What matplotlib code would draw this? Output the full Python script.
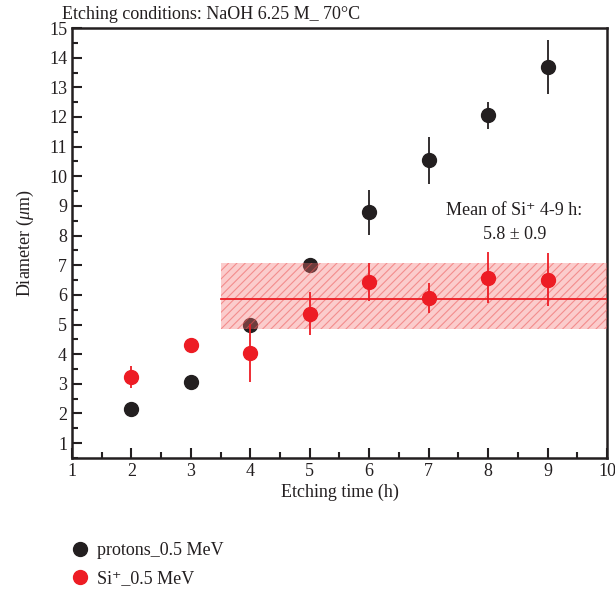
import matplotlib
matplotlib.use("Agg")
import matplotlib.pyplot as plt
from matplotlib.ticker import MultipleLocator
from matplotlib.lines import Line2D

plt.rcParams['font.family'] = ['Liberation Serif', 'DejaVu Serif']
plt.rcParams['mathtext.fontset'] = 'custom'
plt.rcParams['mathtext.it'] = 'Liberation Serif:italic'
plt.rcParams['hatch.linewidth'] = 0.8

# data
time_h = [2, 3, 4, 5, 6, 7, 8, 9]
protons_d = [2.15, 3.07, 4.97, 7.0, 8.78, 10.54, 12.06, 13.68]
protons_err = [0.08, 0.22, 0.1, 0.18, 0.75, 0.8, 0.45, 0.92]
si_d = [3.24, 4.32, 4.03, 5.37, 6.43, 5.89, 6.58, 6.51]
si_err = [0.37, 0.08, 0.98, 0.72, 0.64, 0.5, 0.87, 0.9]
mean_si = 5.87
band_low, band_high = 4.84, 7.07
band_x = [3.5, 10]
labels = ['protons_0.5 MeV', 'Si⁺_0.5 MeV']

black = '#231f20'
red = '#ed1c24'
fs = 13

fig = plt.figure(figsize=(6.15, 5.93), dpi=100)
ax = fig.add_axes([0.117, 0.2277, 0.87, 0.725])

ax.errorbar(time_h, protons_d, yerr=protons_err, fmt='o', color=black, ms=10,
            elinewidth=1.3, capsize=0, zorder=2)
ax.fill_between(band_x, band_low, band_high, facecolor=(0.96, 0.45, 0.45, 0.36),
                edgecolor=(0.93, 0.35, 0.35, 0.55), hatch='////', linewidth=0, zorder=3)
ax.plot(band_x, [mean_si, mean_si], color=red, lw=1.3, zorder=5)
ax.errorbar(time_h, si_d, yerr=si_err, fmt='o', color=red, ms=10,
            elinewidth=1.3, capsize=0, zorder=6)

ax.set_xlim(1, 10)
ax.set_ylim(0.5, 15)
ax.xaxis.set_major_locator(MultipleLocator(1))
ax.xaxis.set_minor_locator(MultipleLocator(0.5))
ax.yaxis.set_major_locator(MultipleLocator(1))
ax.yaxis.set_minor_locator(MultipleLocator(0.5))
ax.tick_params(which='both', direction='in', top=False, right=False, labelsize=fs, width=1.5, colors=black)
ax.tick_params(which='major', length=7)
ax.tick_params(which='minor', length=4)
for s in ax.spines.values():
    s.set_linewidth(1.8)
    s.set_color(black)

ax.set_xlabel('Etching time (h)', fontsize=fs, color=black, labelpad=3)
ax.set_ylabel('Diameter ($\\mathit{\\mu}$m)', fontsize=fs, color=black, labelpad=9)

ax.text(0.827, 0.548, 'Mean of Si⁺ 4-9 h:\n5.8 ± 0.9', transform=ax.transAxes,
        ha='center', va='center', fontsize=fs, color=black, linespacing=1.55)

fig.text(0.101, 0.976, 'Etching conditions: NaOH 6.25 M_ 70°C', fontsize=fs, color=black,
         ha='left', va='center')

handles = [Line2D([], [], ls='', marker='o', ms=10, color=black),
           Line2D([], [], ls='', marker='o', ms=10, color=red)]
fig.legend(handles, labels, loc='upper left', bbox_to_anchor=(0.107, 0.098), frameon=False, fontsize=fs,
           handlelength=0.8, handletextpad=0.55, labelspacing=0.6, borderaxespad=0,
           labelcolor=black)

fig.savefig('out.png', dpi=100)
